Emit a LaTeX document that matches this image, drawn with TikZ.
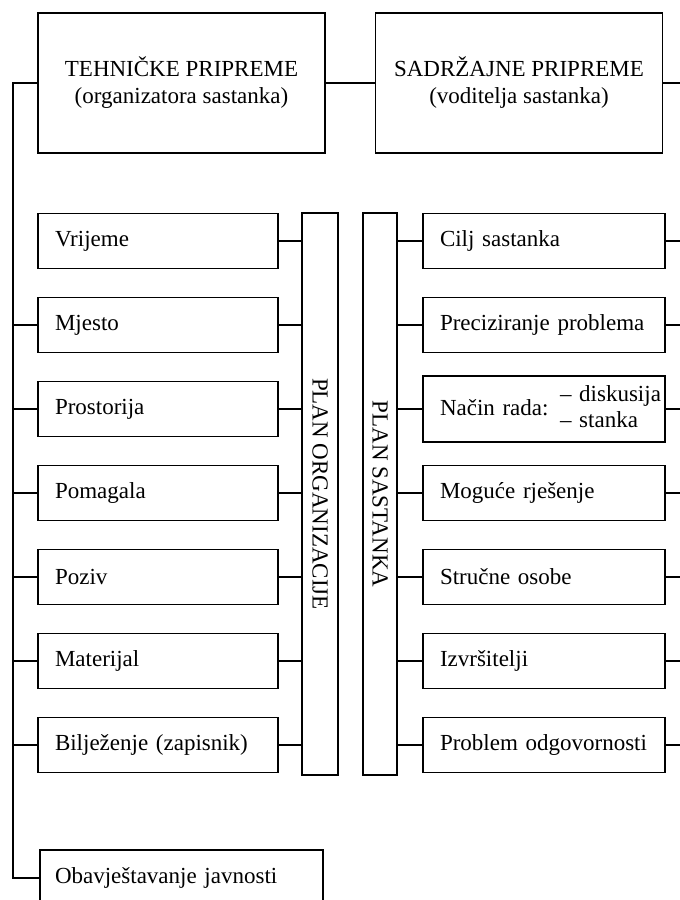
\documentclass[tikz,border=0pt]{standalone}
\usepackage{fontspec}
\setmainfont{Liberation Serif}
\usetikzlibrary{positioning}
\tikzset{
  box/.style={draw, line width=0.9pt, minimum height=27.5pt, text width=#1,
    inner xsep=8.5pt, execute at begin node=\noindent},
  box/.default=103pt,
  headbox/.style={draw, line width=0.9pt, minimum width=143.5pt,
    minimum height=70pt, align=center, font=\fontsize{11.5}{13.5}\selectfont},
  planbar/.style={draw, line width=0.9pt, minimum height=281pt, inner sep=0pt},
  link/.style={line width=0.9pt}
}

\begin{document}
\begin{tikzpicture}[x=0.5pt, y=-0.5pt, font=\fontsize{11.5}{13}\selectfont]
  \useasboundingbox (0,0) rectangle (680,900);
  \clip (0,0) rectangle (680,900);
  \coordinate (trunk) at (13,0);
  \coordinate (redge) at (680,0);
  % top level
  \node[headbox] (tt) at (181.5,83) {TEHNIČKE PRIPREME\\(organizatora sastanka)};
  \node[headbox] (st) at (519,83) {SADRŽAJNE PRIPREME\\(voditelja sastanka)};
  \draw[link] (tt.east) -- (st.west);
  \draw[link] (st.east) -- (st.east -| redge);
  % plan bars
  \node[planbar, minimum width=18pt] (po) at (320,494) {\rotatebox{-90}{PLAN ORGANIZACIJE}};
  \node[planbar, minimum width=17pt] (ps) at (380,494) {\rotatebox{-90}{PLAN SASTANKA}};
  % left column
  \foreach \txt [count=\i] in {Vrijeme, Mjesto, Prostorija, Pomagala, Poziv,
      Materijal, Bilježenje (zapisnik)} {
    \node[box] (l\i) at (158,{157+84*\i}) {\txt};
    \draw[link] (l\i.east) -- (l\i.east -| po.west);
  }
  % right column
  \foreach \txt [count=\i] in {Cilj sastanka, Preciziranje problema,
      {\mbox{Način rada: \begin{tabular}[c]{@{}l@{}}-- diskusija\\-- stanka\end{tabular}}},
      Moguće rješenje, Stručne osobe, Izvršitelji, Problem odgovornosti} {
    \node[box=104pt] (r\i) at (544,{157+84*\i}) {\txt};
    \draw[link] (r\i.west) -- (r\i.west -| ps.east);
    \draw[link] (r\i.east) -- (r\i.east -| redge);
  }
  % trunk on the left
  \node[box=126.5pt, minimum height=28pt, inner xsep=7.5pt] (ob) at (181.5,878) {Obavještavanje javnosti};
  \draw[link] (tt.west) -- (tt.west -| trunk) |- (ob.west);
  \foreach \i in {2,...,7}
    \draw[link] (l\i.west) -- (l\i.west -| trunk);
\end{tikzpicture}
\end{document}
